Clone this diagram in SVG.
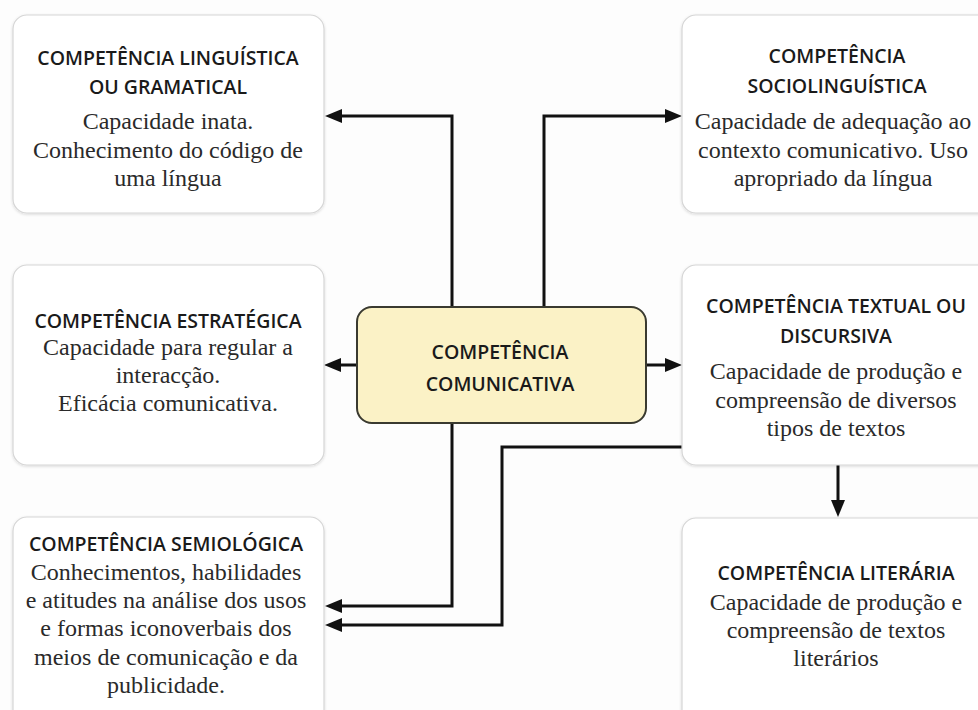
<svg xmlns="http://www.w3.org/2000/svg" width="978" height="710" viewBox="0 0 978 710">
<defs>
<marker id="ah" viewBox="0 0 17 14" refX="7" refY="7" markerWidth="17" markerHeight="14" markerUnits="userSpaceOnUse" orient="auto">
<path d="M0,0 L17,7 L0,14 z" fill="#111"/>
</marker>
<filter id="sh" x="-5%" y="-5%" width="110%" height="110%">
<feGaussianBlur in="SourceAlpha" stdDeviation="1.5"/>
<feOffset dx="0" dy="1"/>
<feComponentTransfer><feFuncA type="linear" slope="0.15"/></feComponentTransfer>
<feMerge><feMergeNode/><feMergeNode in="SourceGraphic"/></feMerge>
</filter>
</defs>
<style>
.box{fill:#ffffff;stroke:#d6d6d6;stroke-width:1.2;filter:url(#sh)}
.center{fill:#fbf2c6;stroke:#3a3a30;stroke-width:2}
.h{font-family:"Open Sans","Liberation Sans",sans-serif;font-weight:600;font-size:19.5px;fill:#1a1a1a;text-anchor:middle}
.b{font-family:"Liberation Serif","DejaVu Serif",serif;font-size:24px;fill:#2a2a2a;text-anchor:middle}
.c{fill:none;stroke:#111;stroke-width:3;marker-end:url(#ah)}
</style>
<rect width="978" height="710" fill="#fdfdfd"/>
<g id="connectors">
<path class="c" d="M452,307 V116 H335"/>
<path class="c" d="M544,307 V116 H672"/>
<path class="c" d="M357,365 H334"/>
<path class="c" d="M646,365 H672"/>
<path class="c" d="M452,423 V606 H335"/>
<path class="c" d="M682,447 H502 V625 H335"/>
<path class="c" d="M838,465 V507"/>
</g>
<g id="n-linguistica">
<rect class="box" x="13" y="15" width="311" height="198" rx="14"/>
<text class="h" x="168" y="65">COMPETÊNCIA LINGUÍSTICA</text>
<text class="h" x="168" y="94">OU GRAMATICAL</text>
<text class="b" x="168" y="129">Capacidade inata.</text>
<text class="b" x="168" y="158">Conhecimento do código de</text>
<text class="b" x="168" y="186">uma língua</text>
</g>
<g id="n-socio">
<rect class="box" x="682" y="15" width="310" height="198" rx="14"/>
<text class="h" x="837" y="63">COMPETÊNCIA</text>
<text class="h" x="837" y="93">SOCIOLINGUÍSTICA</text>
<text class="b" x="833" y="129">Capacidade de adequação ao</text>
<text class="b" x="833" y="158">contexto comunicativo. Uso</text>
<text class="b" x="833" y="186">apropriado da língua</text>
</g>
<g id="n-estrategica">
<rect class="box" x="13" y="265" width="311" height="200" rx="14"/>
<text class="h" x="168" y="328">COMPETÊNCIA ESTRATÉGICA</text>
<text class="b" x="168" y="355">Capacidade para regular a</text>
<text class="b" x="168" y="383">interacção.</text>
<text class="b" x="168" y="411">Eficácia comunicativa.</text>
</g>
<g id="n-textual">
<rect class="box" x="682" y="265" width="310" height="200" rx="14"/>
<text class="h" x="836" y="313">COMPETÊNCIA TEXTUAL OU</text>
<text class="h" x="836" y="343">DISCURSIVA</text>
<text class="b" x="836" y="379">Capacidade de produção e</text>
<text class="b" x="836" y="408">compreensão de diversos</text>
<text class="b" x="836" y="436">tipos de textos</text>
</g>
<g id="n-semiologica">
<rect class="box" x="13" y="517" width="311" height="210" rx="14"/>
<text class="h" x="166" y="551">COMPETÊNCIA SEMIOLÓGICA</text>
<text class="b" x="166" y="580">Conhecimentos, habilidades</text>
<text class="b" x="166" y="608">e atitudes na análise dos usos</text>
<text class="b" x="166" y="636">e formas iconoverbais dos</text>
<text class="b" x="166" y="665">meios de comunicação e da</text>
<text class="b" x="166" y="693">publicidade.</text>
</g>
<g id="n-literaria">
<rect class="box" x="682" y="518" width="310" height="210" rx="14"/>
<text class="h" x="836" y="580">COMPETÊNCIA LITERÁRIA</text>
<text class="b" x="836" y="610">Capacidade de produção e</text>
<text class="b" x="836" y="638">compreensão de textos</text>
<text class="b" x="836" y="666">literários</text>
</g>
<g id="n-comunicativa">
<rect class="center" x="357" y="307" width="289" height="116" rx="15"/>
<text class="h" x="500" y="359">COMPETÊNCIA</text>
<text class="h" x="500" y="391">COMUNICATIVA</text>
</g>
</svg>
